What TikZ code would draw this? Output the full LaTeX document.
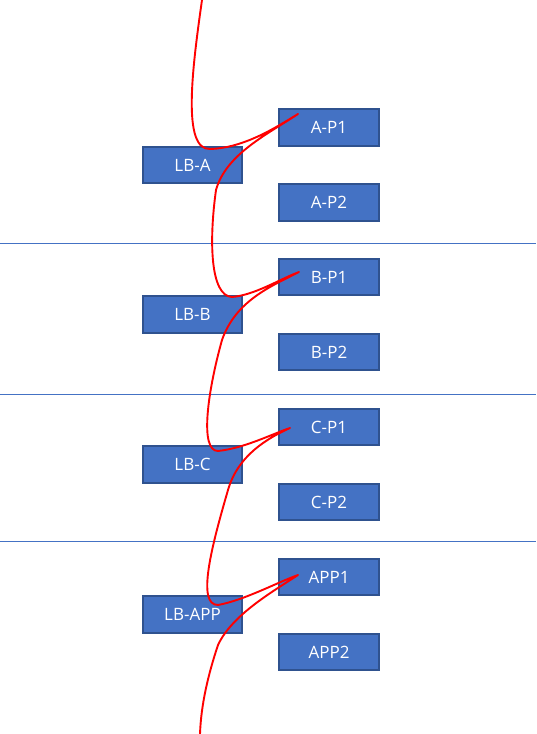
\documentclass[tikz,border=0pt]{standalone}
\usepackage{fontspec}
\setmainfont{Open Sans}
\definecolor{boxfill}{HTML}{4472C4}
\definecolor{boxedge}{HTML}{2F528F}
\definecolor{sepline}{HTML}{4472C4}
\begin{document}
\begin{tikzpicture}[x=1pt,y=-1pt,
  srv/.style={draw=boxedge,fill=boxfill,line width=1.7pt,minimum width=99.5pt,minimum height=36.5pt,inner sep=0pt,text=white,font=\fontsize{17}{19}\selectfont},
  sep/.style={draw=sepline,line width=0.9pt},
  route/.style={draw=red,line width=1.9pt,line join=round,line cap=round}]
\useasboundingbox (0,0) rectangle (536,734);
% separators
\coordinate (s1l) at (0,243);   \coordinate (s1r) at (536,243);
\coordinate (s2l) at (0,394);   \coordinate (s2r) at (536,394);
\coordinate (s3l) at (0,541);   \coordinate (s3r) at (536,541);
\draw[sep] (s1l) -- (s1r);
\draw[sep] (s2l) -- (s2r);
\draw[sep] (s3l) -- (s3r);
% boxes
\node[srv] (lba) at (192.5,165) {LB-A};
\node[srv] (ap1) at (329,127.5) {A-P1};
\node[srv] (ap2) at (329,202.5) {A-P2};
\node[srv] (lbb) at (192.5,314.5) {LB-B};
\node[srv] (bp1) at (329,277) {B-P1};
\node[srv] (bp2) at (329,352) {B-P2};
\node[srv] (lbc) at (192.5,464.5) {LB-C};
\node[srv] (cp1) at (329,427) {C-P1};
\node[srv] (cp2) at (329,502) {C-P2};
\node[srv] (lbapp) at (192.5,614.5) {LB-APP};
\node[srv] (app1) at (329,577) {APP1};
\node[srv] (app2) at (329,652) {APP2};
% route
\coordinate (start) at (202,0);
\coordinate (ha) at (210,149);
\coordinate (ta) at (298,114);
\coordinate (mab) at (216,190);
\coordinate (hb) at (232,297);
\coordinate (tb) at (299,272);
\coordinate (mbc) at (222,340);
\coordinate (hc) at (218,451);
\coordinate (tc) at (290,428);
\coordinate (mcd) at (228,490);
\coordinate (hd) at (218,605);
\coordinate (td) at (298,575);
\coordinate (mde) at (218,645);
\coordinate (finish) at (200,734);
\draw[route] (start) .. controls (192,70) and (182,150) .. (ha)
  .. controls (245,148) and (278,126) .. (ta)
  .. controls (268,134) and (226,154) .. (mab)
  .. controls (209,240) and (210,296) .. (hb)
  .. controls (255,295) and (280,279) .. (tb)
  .. controls (272,286) and (236,300) .. (mbc)
  .. controls (208,390) and (199,451) .. (hc)
  .. controls (245,448) and (272,434) .. (tc)
  .. controls (268,438) and (238,455) .. (mcd)
  .. controls (212,545) and (196,605) .. (hd)
  .. controls (245,600) and (278,582) .. (td)
  .. controls (272,592) and (232,615) .. (mde)
  .. controls (208,675) and (201,705) .. (finish);
\end{tikzpicture}
\end{document}
